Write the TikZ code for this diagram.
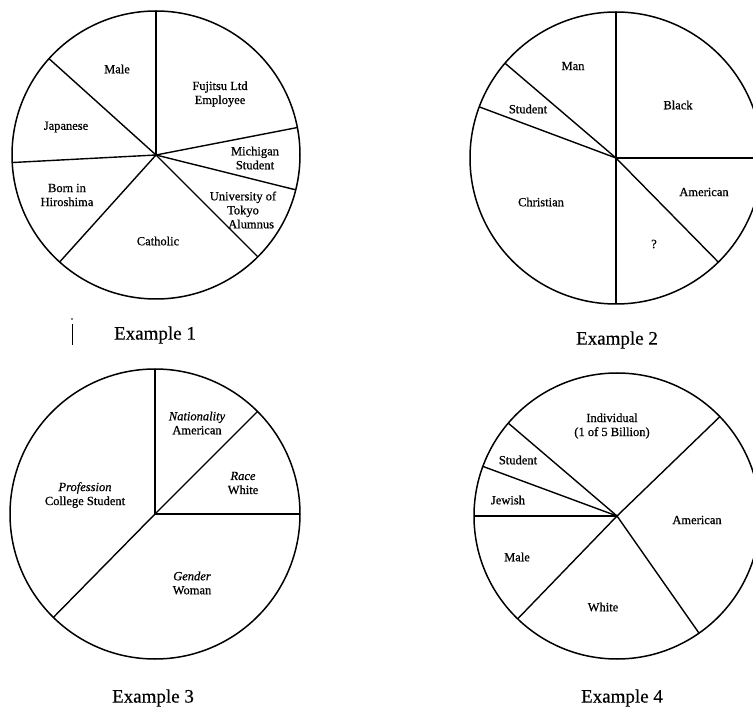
\documentclass[tikz,border=0pt]{standalone}
\usepackage{fontspec}
\setmainfont{Liberation Serif}
\newfontfamily\labelfont{Liberation Serif}[FakeBold=0.7]
\newfontfamily\captionfont{Liberation Serif}[FakeBold=0.4]
\begin{document}
\begin{tikzpicture}[x=1pt,y=-1pt,
  pie/.style={line width=1.5pt},
  spoke/.style={line width=1.4pt},
  lbl/.style={font=\labelfont\fontsize{12.5}{14}\selectfont, align=center, inner sep=0pt},
  piecaption/.style={font=\captionfont\fontsize{19}{22}\selectfont, inner sep=0pt}]
\useasboundingbox (0,0) rectangle (753,711);
\clip (0,0) rectangle (753,711);

% ---- pie 1 ----
\coordinate (c1) at (156,155);
\draw[pie] (c1) circle (144);
\foreach \a in {90,11,-14,-45,228,183,138}
  \draw[spoke] (c1) -- ++(-\a:144);
\node[lbl] (m1) at (117,69) {Male};
\node[lbl] (f1) at (220,94) {Fujitsu Ltd\\Employee};
\node[lbl] (j1) at (66,127) {Japanese};
\node[lbl] (s1) at (255,158) {Michigan\\Student};
\node[lbl] (b1) at (67,195) {Born in\\Hiroshima};
\node[lbl] (u1) at (243,210) {University of\\Tokyo\\\hspace*{1.3em}Alumnus};
\node[lbl] (k1) at (158,241) {Catholic};
\node[piecaption] (e1) at (155,335) {Example 1};
\draw[line width=0.9pt] (72,324) -- (72,345);
\fill (72,319) circle (0.8);

% ---- pie 2 ----
\coordinate (c2) at (616,158);
\draw[pie] (c2) circle (146);
\foreach \a in {90,0,270,-45.5,139.5,159.5}
  \draw[spoke] (c2) -- ++(-\a:146);
\node[lbl] (m2) at (573,66) {Man};
\node[lbl] (b2) at (678,105) {Black};
\node[lbl] (s2) at (528,109) {Student};
\node[lbl] (a2) at (704,192) {American};
\node[lbl] (k2) at (541,202) {Christian};
\node[lbl] (q2) at (654,244) {?};
\node[piecaption] (e2) at (617,340) {Example 2};

% ---- pie 3 ----
\coordinate (c3) at (155,514);
\draw[pie] (c3) circle (145);
\foreach \a in {90,0,45,225.5}
  \draw[spoke] (c3) -- ++(-\a:145);
\node[lbl] (n3) at (197,423) {\textit{Nationality}\\American};
\node[lbl] (r3) at (243,483) {\textit{Race}\\White};
\node[lbl] (p3) at (85,495) {\textit{Profession}\\College Student};
\node[lbl] (g3) at (192,583) {\textit{Gender}\\Woman};
\node[piecaption] (e3) at (153,698) {Example 3};

% ---- pie 4 ----
\coordinate (c4) at (617,516);
\draw[pie] (c4) circle (143);
\foreach \a in {44,-55,226,180,159.7,139.5}
  \draw[spoke] (c4) -- ++(-\a:143);
\node[lbl] (i4) at (612,426) {Individual\\(1 of 5 Billion)};
\node[lbl] (s4) at (518,460) {Student};
\node[lbl] (j4) at (508,500) {Jewish};
\node[lbl] (a4) at (697,520) {American};
\node[lbl] (m4) at (517,557) {Male};
\node[lbl] (w4) at (603,607) {White};
\node[piecaption] (e4) at (622,698) {Example 4};
\end{tikzpicture}
\end{document}
